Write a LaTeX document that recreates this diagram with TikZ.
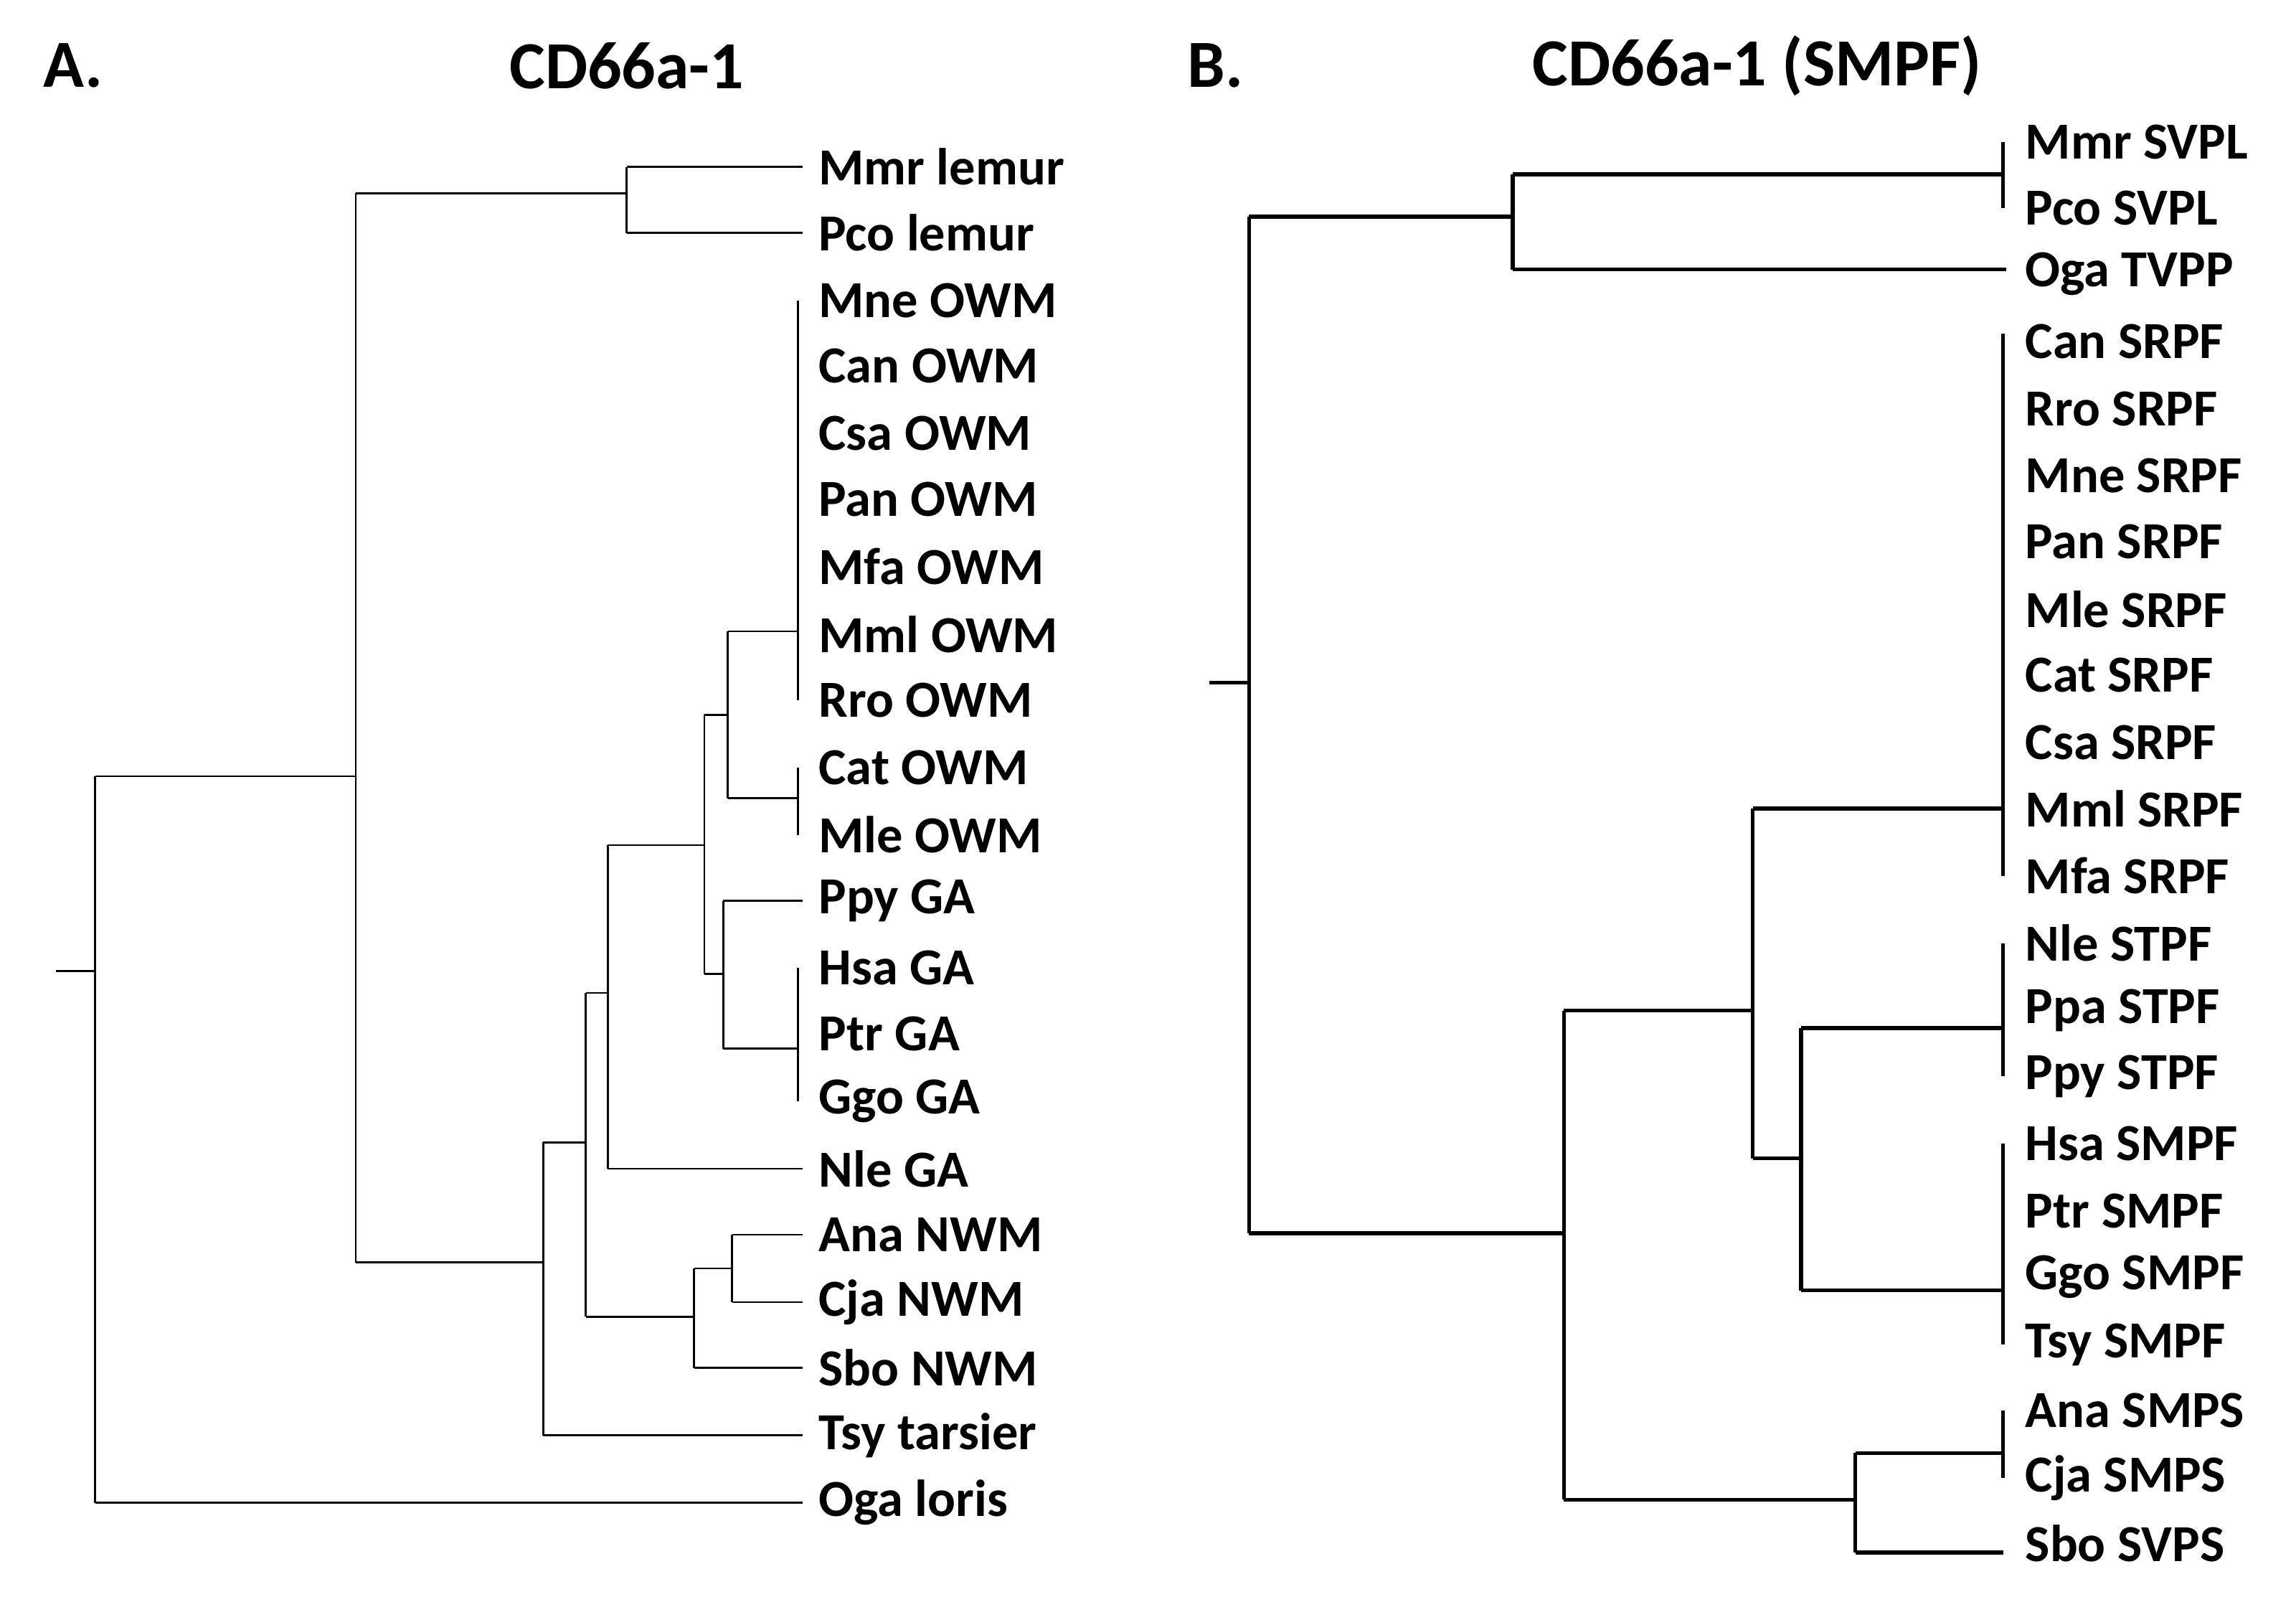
\documentclass[tikz,border=0pt]{standalone}
\usepackage{fontspec}
\setmainfont{Carlito}
\begin{document}
\begin{tikzpicture}[x=1pt,y=-1pt,
 lab/.style={anchor=west,inner sep=0pt,font=\fontsize{35.5}{35.5}\selectfont\bfseries},
 ttl/.style={inner sep=0pt,font=\fontsize{46}{46}\selectfont\bfseries},
 ea/.style={line width=1.3pt},eb/.style={line width=2.6pt}]
\useasboundingbox (0,0) rectangle (1568,1090);
\node[ttl] (tA) at (50,45) {A.};
\node[ttl] (tAt) at (428,45) {CD66a-1};
\node[ttl] (tB) at (830,45) {B.};
\node[ttl] (tBt) at (1200,45) {CD66a-1 (SMPF)};
% Panel A labels
\foreach \n/\y in {Mmr lemur/114,Pco lemur/159,Mne OWM/205,Can OWM/250,Csa OWM/296,Pan OWM/341,Mfa OWM/387,Mml OWM/433,Rro OWM/478,Cat OWM/524,Mle OWM/570,Ppy GA/615,Hsa GA/661,Ptr GA/706,Ggo GA/752,Nle GA/798,Ana NWM/843,Cja NWM/889,Sbo NWM/934,Tsy tarsier/980,Oga loris/1026}
  \node[lab] at (559,\y) {\n};
% Panel A tree
\draw[ea] (38,663)--(65,663) (65,530)--(65,1026) (65,1026)--(548,1026);
\draw[ea] (65,530)--(243,530) (243,132)--(243,862);
\draw[ea] (243,132)--(428,132) (428,114)--(428,159) (428,114)--(548,114) (428,159)--(548,159);
\draw[ea] (243,862)--(371,862) (371,780)--(371,980) (371,980)--(548,980);
\draw[ea] (371,780)--(400,780) (400,678)--(400,899);
\draw[ea] (400,678)--(415,678) (415,577)--(415,798) (415,798)--(548,798);
\draw[ea] (415,577)--(481,577) (481,488)--(481,665);
\draw[ea] (481,488)--(497,488) (497,431)--(497,545) (497,431)--(545,431) (545,205)--(545,478);
\draw[ea] (497,545)--(545,545) (545,524)--(545,570);
\draw[ea] (481,665)--(494,665) (494,615)--(494,716) (494,615)--(548,615) (494,716)--(545,716) (545,661)--(545,752);
\draw[ea] (400,899)--(474,899) (474,866)--(474,934) (474,934)--(548,934);
\draw[ea] (474,866)--(500,866) (500,843)--(500,889) (500,843)--(548,843) (500,889)--(548,889);
% Panel B labels
\foreach \n/\y in {Mmr SVPL/97,Pco SVPL/142,Oga TVPP/187,Can SRPF/233,Rro SRPF/279,Mne SRPF/325,Pan SRPF/370,Mle SRPF/416,Cat SRPF/461,Csa SRPF/507,Mml SRPF/552,Mfa SRPF/598,Nle STPF/644,Ppa STPF/690,Ppy STPF/735,Hsa SMPF/781,Ptr SMPF/827,Ggo SMPF/872,Tsy SMPF/918,Ana SMPS/963,Cja SMPS/1009,Sbo SVPS/1054}
  \node[lab] at (1383,\y) {\n};
% Panel B tree
\draw[eb] (826,466)--(853,466) (853,148)--(853,842);
\draw[eb] (853,148)--(1033,148) (1033,119)--(1033,184) (1033,119)--(1368,119) (1368,97)--(1368,142) (1033,184)--(1370,184);
\draw[eb] (853,842)--(1068,842) (1068,690)--(1068,1024);
\draw[eb] (1068,690)--(1197,690) (1197,552)--(1197,791) (1197,552)--(1368,552) (1368,228)--(1368,598);
\draw[eb] (1197,791)--(1230,791) (1230,702)--(1230,881) (1230,702)--(1368,702) (1368,644)--(1368,735) (1230,881)--(1368,881) (1368,781)--(1368,918);
\draw[eb] (1068,1024)--(1267,1024) (1267,992)--(1267,1060) (1267,992)--(1368,992) (1368,963)--(1368,1009) (1267,1060)--(1368,1060);
\end{tikzpicture}
\end{document}
